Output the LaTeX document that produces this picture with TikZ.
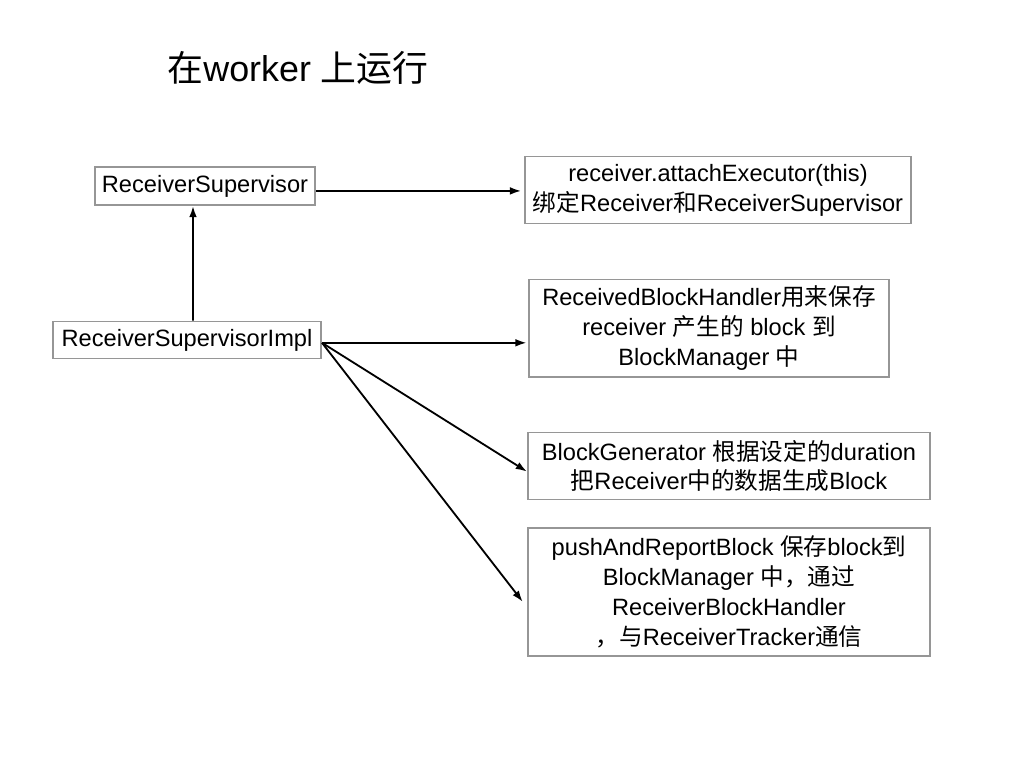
\documentclass[tikz,border=0pt]{standalone}
\usepackage{fontspec}
\setmainfont{Liberation Sans}
\newfontfamily\cjk{Noto Sans CJK SC}
\newcommand{\zh}[1]{{\cjk #1}}
\usepackage{tikz}
\usetikzlibrary{arrows.meta,positioning,calc}
\definecolor{boxgray}{RGB}{150,150,150}

\begin{document}
\begin{tikzpicture}[x=0.025cm, y=-0.025cm,
        box/.style={rectangle, draw=boxgray, line width=1.4pt,
                    align=center, fill=white, inner sep=0pt,
                    font=\fontsize{16.8}{21.3}\selectfont},
        arrow/.style={-{Latex[length=8pt,width=5.5pt]}, line width=1.3pt, draw=black},
        title/.style={font=\fontsize{25.5}{30}\selectfont}]

        \useasboundingbox (0,0) rectangle (1024,768);

        % title
        \node[title] (ttl) at (298,68) {\zh{在}worker \zh{上运行}};

        % supervisor node
        \node[box, minimum width=5.5cm, minimum height=0.95cm] (sup) at (205,186)
            {ReceiverSupervisor};

        % attach node
        \node[box, minimum width=9.65cm, minimum height=1.675cm] (att) at (718,190)
            {receiver.attachExecutor(this)\\\zh{绑定}Receiver\zh{和}ReceiverSupervisor};

        % impl node
        \node[box, minimum width=6.7cm, minimum height=0.925cm] (impl) at (187,340)
            {ReceiverSupervisorImpl};

        % handler node
        \node[box, minimum width=9.0cm, minimum height=2.425cm] (hdl) at (709,328)
            {ReceivedBlockHandler\zh{用来保存}\\receiver \zh{产生的} block \zh{到}\\BlockManager \zh{中}};

        % generator node
        \node[box, minimum width=10.05cm, minimum height=1.675cm] (gen) at (729,466)
            {BlockGenerator \zh{根据设定的}duration\\\zh{把}Receiver\zh{中的数据生成}Block};

        % push node
        \node[box, minimum width=10.05cm, minimum height=3.2cm] (push) at (729,592)
            {pushAndReportBlock \zh{保存}block\zh{到}\\BlockManager \zh{中，通过}\\ReceiverBlockHandler\\\zh{，与}ReceiverTracker\zh{通信}};

        % Arrow: impl -> supervisor
        \draw[arrow] ([xshift=0.15cm]impl.north) -- ([xshift=-0.3cm]sup.south);

        % Arrow: supervisor -> attach
        \coordinate (s) at ([yshift=-3.5pt]sup.east);
        \draw[arrow] (s) -- ([xshift=-2pt]s -| att.west);

        % Arrows out of impl
        \coordinate (out) at ([yshift=-2pt]impl.east);
        \draw[arrow] (out) -- ([xshift=-1pt]out -| hdl.west);
        \draw[arrow] (out) -- ([yshift=-4pt]gen.west);
        \draw[arrow] (out) -- ([xshift=-3pt,yshift=-7pt]push.west);

    \end{tikzpicture}
\end{document}
